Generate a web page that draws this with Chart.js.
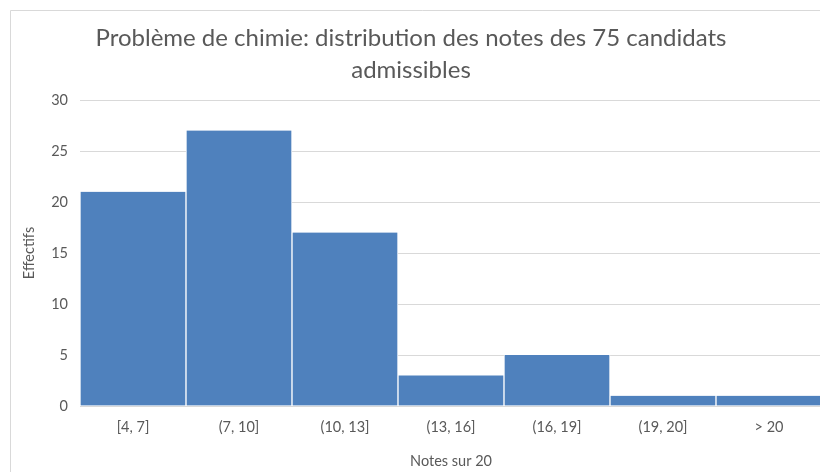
<!DOCTYPE html>
<html>
<head>
<meta charset="utf-8">
<script src="https://cdn.jsdelivr.net/npm/chart.js@4"></script>
<style>
    html, body { margin: 0; padding: 0; background: #fff; overflow: hidden; }
    #wrap { position: absolute; left: 0; top: 0; width: 834px; height: 472px; }
</style>
</head>
<body>
<div id="wrap"><canvas id="histChart"></canvas></div>
<script>
// Histogram bins and counts (75 candidates)
const binLabels = ['[4, 7]', '(7, 10]', '(10, 13]', '(13, 16]', '(16, 19]', '(19, 20]', '> 20'];
const counts = [21, 27, 17, 3, 5, 1, 1];
const yTicks = [0, 5, 10, 15, 20, 25, 30];

const textColor = '#595959';
const gridColor = '#d9d9d9';
const barColor = '#4f81bd';
const fontFamily = 'Lato, "Open Sans", sans-serif';

// Outer chart border (top and left edges visible, rest is cropped)
const frameBorder = {
    id: 'frameBorder',
    beforeDraw(chart) {
        const ctx = chart.ctx;
        ctx.save();
        ctx.fillStyle = '#fff';
        ctx.fillRect(0, 0, chart.width, chart.height);
        ctx.strokeStyle = gridColor;
        ctx.lineWidth = 1;
        ctx.beginPath();
        ctx.moveTo(10.5, chart.height);
        ctx.lineTo(10.5, 10.5);
        ctx.lineTo(chart.width, 10.5);
        ctx.stroke();
        ctx.restore();
    }
};

const ctx = document.getElementById('histChart').getContext('2d');

new Chart(ctx, {
    type: 'bar',
    data: {
        labels: binLabels,
        datasets: [{
            label: 'Effectifs',
            data: counts,
            backgroundColor: barColor,
            borderColor: '#ffffff',
            borderWidth: { left: 1, right: 1, top: 0, bottom: 0 },
            borderSkipped: false,
            categoryPercentage: 1,
            barPercentage: 1
        }]
    },
    options: {
        responsive: true,
        maintainAspectRatio: false,
        animation: false,
        layout: { padding: { left: 0, right: 12, top: 0, bottom: 0 } },
        plugins: {
            legend: { display: false },
            tooltip: { enabled: false },
            title: {
                display: true,
                text: ['Problème de chimie: distribution des notes des 75 candidats', 'admissibles'],
                color: textColor,
                font: { family: fontFamily, size: 24, weight: 'normal', lineHeight: '32px' },
                padding: { top: 22, bottom: 14 }
            }
        },
        scales: {
            x: {
                grid: { display: false, drawTicks: false },
                border: { display: true, color: gridColor },
                ticks: {
                    color: textColor,
                    font: { family: fontFamily, size: 14.5 },
                    padding: 13,
                    maxRotation: 0
                },
                title: {
                    display: true,
                    text: 'Notes sur 20',
                    color: textColor,
                    font: { family: fontFamily, size: 14.5 },
                    padding: { top: 0, bottom: 2 }
                },
                afterFit(scale) { scale.height = 66; }
            },
            y: {
                min: 0,
                max: 30,
                afterBuildTicks(scale) {
                    scale.ticks = yTicks.map(v => ({ value: v }));
                },
                grid: { color: gridColor, drawTicks: false },
                border: { display: false },
                ticks: {
                    color: textColor,
                    font: { family: fontFamily, size: 14.5 },
                    padding: 12
                },
                title: {
                    display: true,
                    text: 'Effectifs',
                    color: textColor,
                    font: { family: fontFamily, size: 14.5 },
                    padding: { top: 21, bottom: 0 }
                },
                afterFit(scale) { scale.width = 80; }
            }
        }
    },
    plugins: [frameBorder]
});
</script>
</body>
</html>
